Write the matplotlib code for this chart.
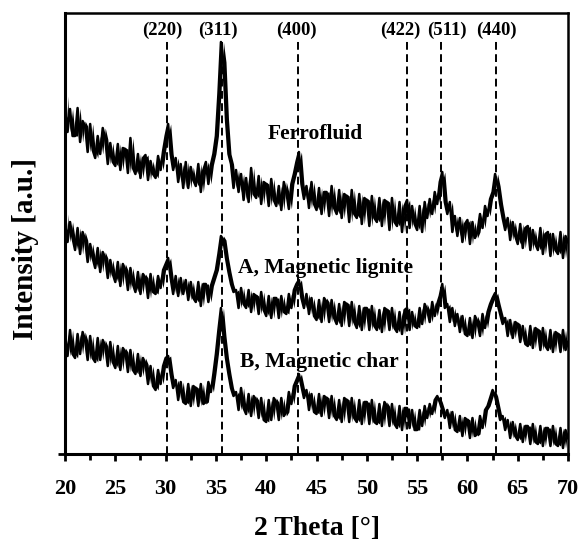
import matplotlib
matplotlib.use("Agg")
import matplotlib.pyplot as plt
import numpy as np

two_theta = np.arange(20.0, 70.001, 0.25)

ferrofluid = [
    358, 322, 345, 318, 318, 346, 312, 333, 328, 302, 330, 304,
    296, 318, 300, 326, 315, 290, 311, 292, 288, 310, 284, 306,
    305, 281, 316, 286, 280, 300, 276, 296, 299, 274, 293, 280,
    276, 298, 284, 303, 318, 330, 300, 284, 296, 272, 290, 266,
    292, 266, 287, 274, 268, 290, 262, 284, 292, 270, 289, 300,
    318, 360, 412, 392, 335, 300, 290, 266, 284, 262, 280, 254,
    276, 252, 286, 260, 256, 278, 250, 272, 270, 248, 275, 254,
    248, 268, 244, 272, 262, 245, 270, 280, 292, 302, 270, 255,
    268, 246, 272, 250, 244, 266, 240, 262, 262, 238, 268, 246,
    240, 264, 236, 260, 258, 232, 264, 240, 236, 260, 230, 256,
    254, 228, 258, 236, 232, 256, 228, 254, 252, 224, 256, 232,
    228, 252, 222, 248, 254, 226, 248, 230, 224, 248, 222, 252,
    236, 255, 240, 262, 250, 272, 282, 252, 240, 252, 222, 238,
    218, 236, 212, 230, 234, 210, 232, 216, 222, 240, 226, 248,
    238, 255, 262, 280, 268, 250, 236, 224, 236, 214, 232, 218,
    210, 230, 206, 226, 228, 204, 224, 210, 204, 226, 200, 220,
    222, 198, 220, 204, 200, 222, 196, 218, 212,
]

lignite = [
    240, 212, 232, 216, 204, 226, 200, 222, 214, 192, 210, 196,
    186, 206, 182, 202, 196, 176, 194, 180, 172, 192, 168, 190,
    184, 164, 186, 170, 162, 182, 160, 180, 176, 156, 180, 162,
    160, 178, 166, 184, 190, 196, 176, 160, 178, 158, 176, 160,
    174, 154, 172, 156, 152, 172, 148, 170, 170, 152, 168, 176,
    184, 200, 218, 214, 196, 182, 170, 162, 164, 146, 166, 150,
    146, 164, 142, 160, 158, 140, 162, 144, 138, 158, 136, 156,
    156, 136, 158, 142, 140, 160, 146, 164, 170, 174, 156, 146,
    160, 140, 156, 138, 134, 154, 132, 156, 152, 132, 154, 136,
    130, 150, 128, 152, 150, 128, 152, 132, 126, 148, 124, 146,
    146, 124, 148, 128, 124, 144, 122, 146, 144, 124, 146, 126,
    122, 142, 120, 144, 146, 124, 142, 128, 126, 146, 130, 150,
    144, 132, 152, 138, 150, 158, 170, 146, 150, 132, 146, 128,
    140, 122, 138, 120, 118, 136, 116, 138, 132, 118, 140, 126,
    142, 150, 156, 161, 150, 140, 130, 136, 118, 134, 116, 132,
    130, 112, 128, 110, 108, 128, 106, 126, 124, 104, 126, 108,
    104, 124, 102, 122, 120, 102, 124, 104, 112,
]

char = [
    120, 98, 124, 100, 96, 120, 100, 122, 114, 94, 118, 96,
    92, 116, 94, 114, 108, 88, 112, 92, 86, 108, 84, 106,
    102, 82, 104, 84, 80, 100, 78, 96, 90, 70, 88, 68,
    64, 84, 70, 88, 96, 98, 80, 66, 74, 54, 72, 52,
    50, 70, 48, 68, 66, 48, 70, 50, 52, 72, 62, 80,
    100, 124, 146, 118, 96, 80, 66, 58, 62, 44, 66, 46,
    40, 60, 38, 58, 54, 36, 56, 34, 32, 54, 34, 56,
    52, 34, 56, 38, 42, 62, 50, 68, 74, 80, 68, 56,
    64, 44, 60, 42, 40, 60, 38, 58, 56, 36, 58, 38,
    34, 54, 32, 56, 54, 32, 56, 36, 32, 54, 30, 52,
    52, 30, 54, 32, 30, 50, 28, 52, 48, 28, 50, 30,
    26, 48, 24, 46, 46, 26, 44, 24, 24, 44, 28, 48,
    36, 50, 40, 54, 58, 52, 44, 36, 44, 26, 42, 24,
    22, 38, 18, 36, 34, 16, 36, 18, 20, 38, 26, 44,
    48, 56, 64, 58, 46, 34, 38, 24, 34, 16, 32, 18,
    14, 30, 12, 28, 28, 10, 30, 12, 10, 28, 8, 26,
    26, 8, 28, 10, 8, 26, 6, 24, 16,
]

# reflection positions (deg) and their Miller indices
peak_positions = [30.1, 35.6, 43.2, 54.0, 57.4, 62.8]
peak_labels = ["(220)", "(311)", "(400)", "(422)", "(511)", "(440)"]
label_x = [29.7, 35.25, 43.0, 53.3, 57.95, 62.85]

sample_names = ["Ferrofluid", "A, Magnetic lignite", "B, Magnetic char"]
name_xy = [(40.1, 320), (37.2, 186), (37.4, 92)]

plt.rcParams["font.family"] = ["Liberation Serif", "DejaVu Serif"]
plt.rcParams["font.weight"] = "bold"

fig = plt.figure(figsize=(5.82, 5.41), dpi=100)
ax = fig.add_axes([0.1117, 0.1608, 0.8643, 0.8152])

for xp in peak_positions:
    ax.plot([xp, xp], [0, 414], color="black", lw=1.4,
            linestyle=(0, (4, 2.3)), zorder=1)

for series in (ferrofluid, lignite, char):
    y = np.asarray(series, dtype=float)
    # noisy trace: shade between neighbouring counts so the scatter reads as a band
    ax.fill_between(two_theta[1:], y[:-1], y[1:], color="black", lw=0, zorder=2)
    ax.plot(two_theta, y, color="black", lw=1.8, zorder=2)

for xl, lab in zip(label_x, peak_labels):
    ax.text(xl, 424, lab, ha="center", va="center", fontsize=13.5,
            fontweight="bold")

for (xn, yn), name in zip(name_xy, sample_names):
    ax.text(xn, yn, name, ha="left", va="center", fontsize=15.5,
            fontweight="bold")

ax.set_xlim(20, 70)
ax.set_ylim(0, 441)
ax.set_xticks(np.arange(20, 71, 5))
ax.set_xticks(np.arange(22.5, 70, 5), minor=True)
ax.set_yticks([0])
ax.set_yticklabels([])

ax.tick_params(axis="x", which="major", direction="out", length=5,
               width=2, labelsize=16, pad=13)
ax.tick_params(axis="x", which="minor", direction="out", length=4, width=2)
ax.tick_params(axis="y", direction="out", length=5, width=2)
for lab in ax.get_xticklabels():
    lab.set_fontweight("bold")

for side in ("left", "bottom"):
    ax.spines[side].set_linewidth(2.2)
for side in ("top", "right"):
    ax.spines[side].set_linewidth(1.8)

ax.set_xlabel("2 Theta [°]", fontsize=20, fontweight="bold")
ax.xaxis.set_label_coords(0.5, -0.14)
ax.set_ylabel("Intensity [a.u.]", fontsize=21, fontweight="bold")
ax.yaxis.set_label_coords(-0.052, 0.465)

fig.savefig("out.png", dpi=100)
